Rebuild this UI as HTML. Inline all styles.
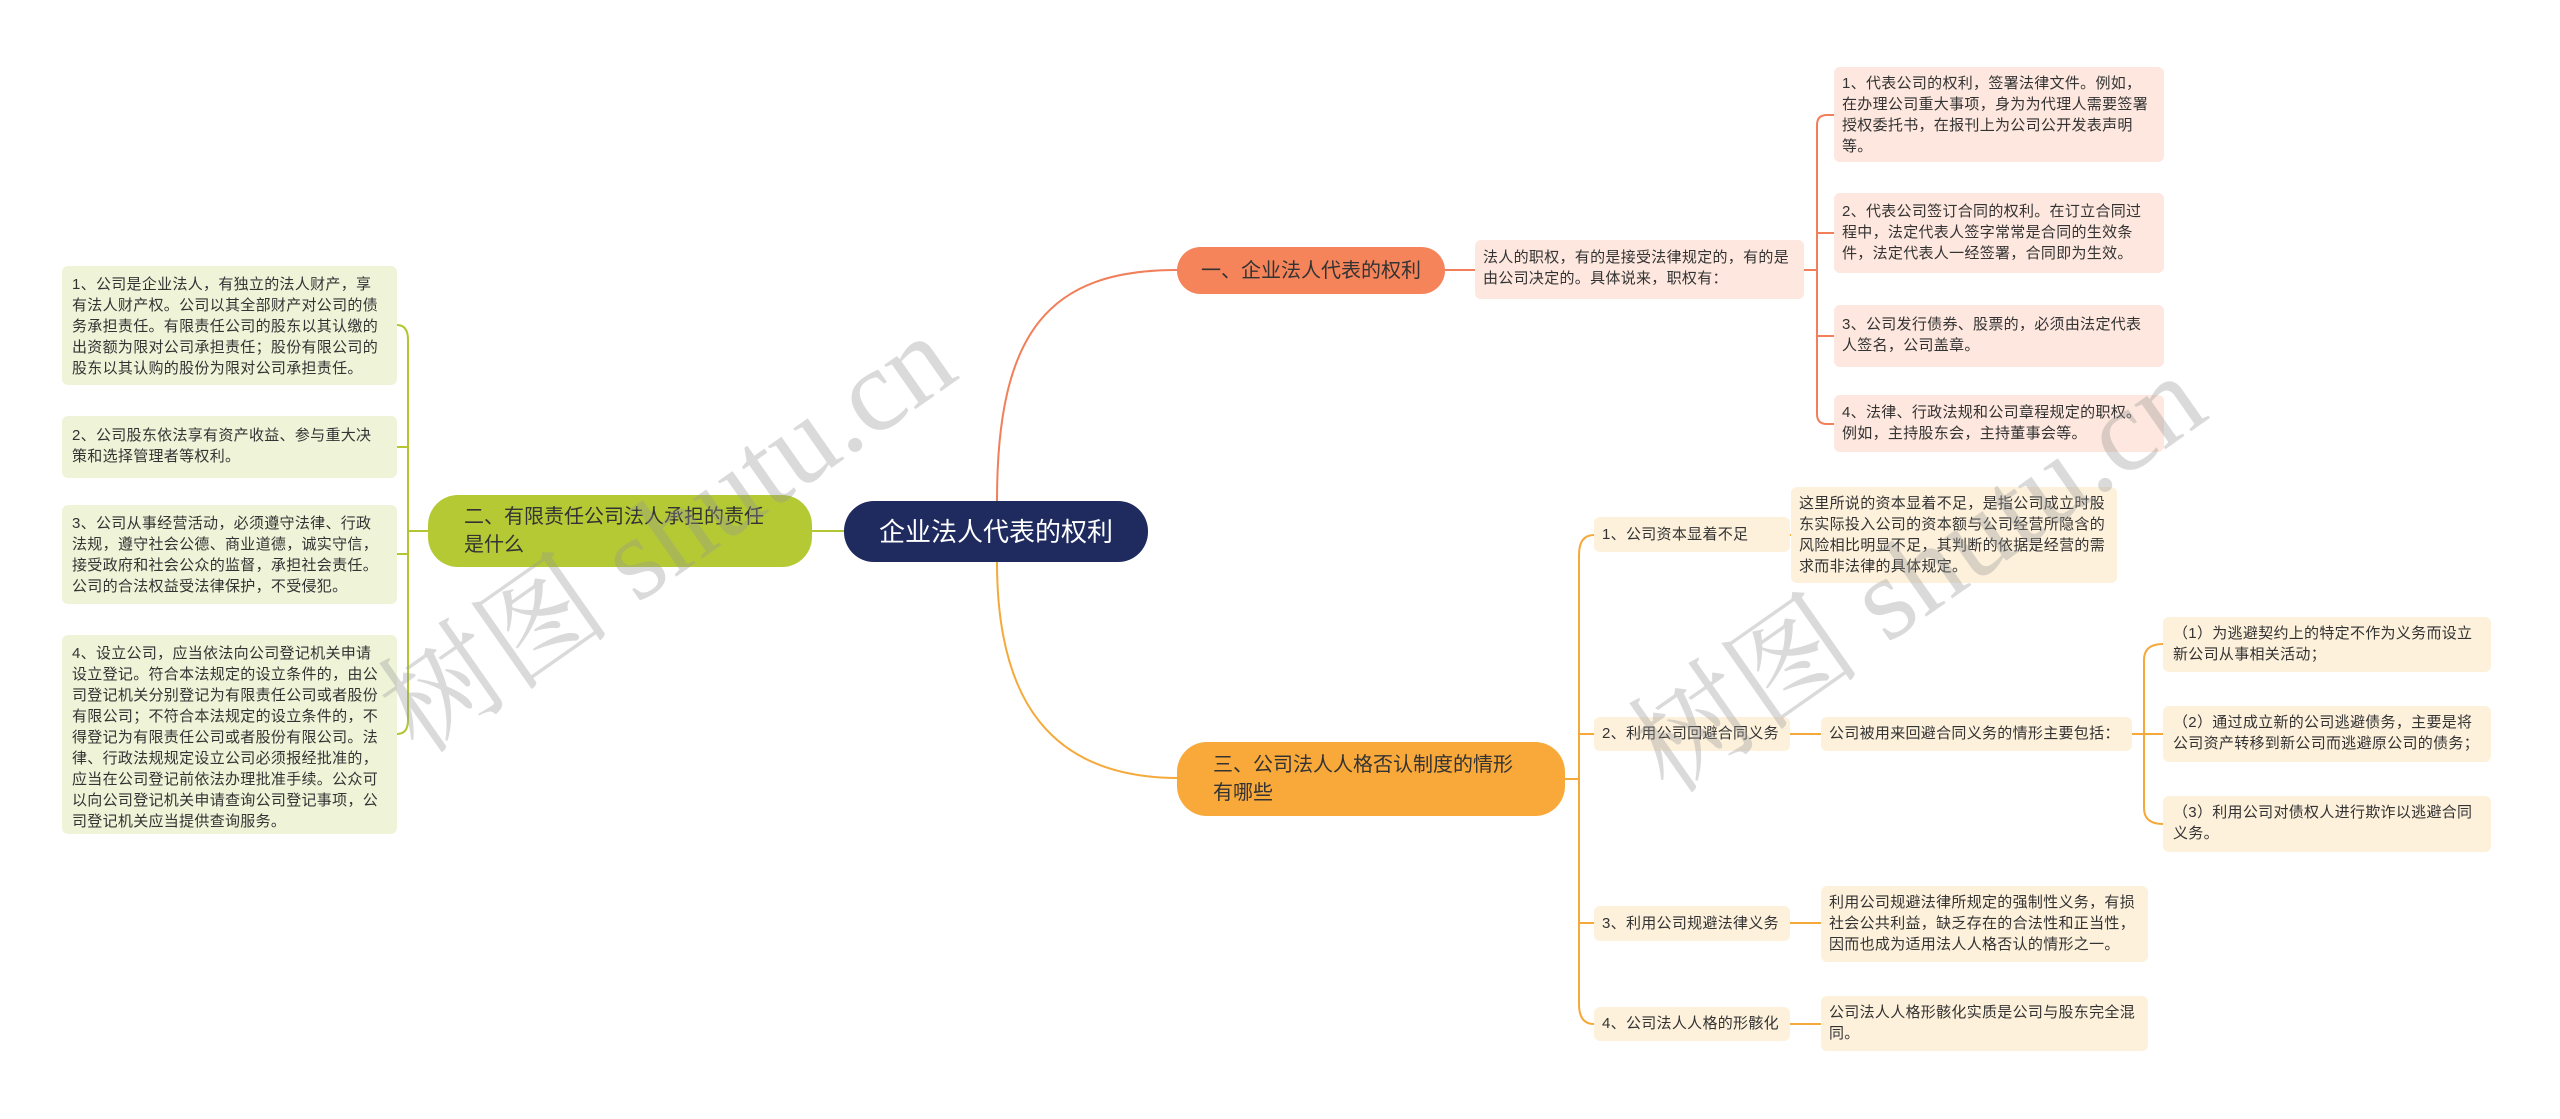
<!DOCTYPE html>
<html><head><meta charset="utf-8"><style>
body{margin:0;width:2560px;height:1119px;background:#fff;position:relative;overflow:hidden;font-family:"Liberation Sans","Noto Sans CJK SC",sans-serif;}
.n{position:absolute;box-sizing:border-box;font-size:15px;line-height:21px;color:#333;padding:10px 10px;border-radius:6px;letter-spacing:0.3px;}
.p{background:#fde7de;}
.g{background:#eff4d9;}
.y{background:#fdf1dc;}
.b{position:absolute;box-sizing:border-box;display:flex;align-items:center;font-size:20px;line-height:28px;color:#333;border-radius:24px;padding:0 22px;}
.wm{position:absolute;font-size:118px;color:rgba(150,150,150,0.35);transform:rotate(-35deg);white-space:nowrap;font-family:"Liberation Serif","Noto Serif CJK SC",serif;}
</style></head><body>
<svg width="2560" height="1119" style="position:absolute;left:0;top:0">
<g fill="none" stroke-width="2">
<path d="M997 501 C997 330 1050 270 1177 270" stroke="#f07f5a"/>
<path d="M997 562 C997 700 1050 778 1179 778" stroke="#f5a93a"/>
<path d="M844 531 L812 531" stroke="#b3c631"/>
<path d="M1445 270 L1475 270" stroke="#f07f5a"/>
<path d="M1804 270 L1817 270" stroke="#f07f5a"/>
<path d="M1834 115 L1827 115 Q1817 115 1817 125 L1817 414 Q1817 424 1827 424 L1834 424 M1817 233 L1834 233 M1817 336 L1834 336" stroke="#f07f5a"/>
<path d="M428 531 L408 531" stroke="#b3c631"/>
<path d="M397 325 Q408 325 408 340 L408 720 Q408 734 397 734 M397 447 L408 447 M397 554 L408 554" stroke="#b3c631"/>
<path d="M1565 779 L1579 779" stroke="#f5a93a"/>
<path d="M1594 535 Q1579 535 1579 555 L1579 1004 Q1579 1024 1594 1024 M1579 734 L1594 734 M1579 923 L1594 923" stroke="#f5a93a"/>
<path d="M1790 535 L1791 535 M1790 734 L1821 734 M1790 923 L1821 923 M1790 1024 L1821 1024" stroke="#f5a93a"/>
<path d="M2132 734 L2144 734 M2163 644 Q2144 644 2144 660 L2144 808 Q2144 824 2163 824 M2144 734 L2163 734" stroke="#f5a93a"/>
</g></svg>

<div class="b" style="left:844px;top:501px;width:304px;height:61px;background:#1f2a5e;color:#fff;font-size:26px;justify-content:center;border-radius:30px;">企业法人代表的权利</div>

<div class="b" style="left:1177px;top:247px;width:268px;height:47px;background:#f5845a;justify-content:center;">一、企业法人代表的权利</div>
<div class="n p" style="left:1475px;top:240px;width:329px;height:59px;padding:7px 8px;">法人的职权，有的是接受法律规定的，有的是由公司决定的。具体说来，职权有：</div>
<div class="n p" style="left:1834px;top:67px;width:330px;height:95px;padding:6px 11px 6px 8px;">1、代表公司的权利，签署法律文件。例如，在办理公司重大事项，身为为代理人需要签署授权委托书，在报刊上为公司公开发表声明等。</div>
<div class="n p" style="left:1834px;top:193px;width:330px;height:80px;padding:8px 11px 8px 8px;">2、代表公司签订合同的权利。在订立合同过程中，法定代表人签字常常是合同的生效条件，法定代表人一经签署，合同即为生效。</div>
<div class="n p" style="left:1834px;top:305px;width:330px;height:62px;padding:9px 11px 9px 8px;">3、公司发行债券、股票的，必须由法定代表人签名，公司盖章。</div>
<div class="n p" style="left:1834px;top:395px;width:330px;height:57px;padding:7px 11px 7px 8px;">4、法律、行政法规和公司章程规定的职权。例如，主持股东会，主持董事会等。</div>

<div class="b" style="left:428px;top:495px;width:384px;height:72px;background:#b5c934;border-radius:30px;padding:0 36px;">二、有限责任公司法人承担的责任是什么</div>
<div class="n g" style="left:62px;top:266px;width:335px;height:119px;padding:8px 12px 8px 10px;">1、公司是企业法人，有独立的法人财产，享有法人财产权。公司以其全部财产对公司的债务承担责任。有限责任公司的股东以其认缴的出资额为限对公司承担责任；股份有限公司的股东以其认购的股份为限对公司承担责任。</div>
<div class="n g" style="left:62px;top:416px;width:335px;height:62px;padding:9px 12px 9px 10px;">2、公司股东依法享有资产收益、参与重大决策和选择管理者等权利。</div>
<div class="n g" style="left:62px;top:505px;width:335px;height:99px;padding:8px 12px 8px 10px;">3、公司从事经营活动，必须遵守法律、行政法规，遵守社会公德、商业道德，诚实守信，接受政府和社会公众的监督，承担社会责任。公司的合法权益受法律保护，不受侵犯。</div>
<div class="n g" style="left:62px;top:635px;width:335px;height:199px;padding:8px 12px 8px 10px;">4、设立公司，应当依法向公司登记机关申请设立登记。符合本法规定的设立条件的，由公司登记机关分别登记为有限责任公司或者股份有限公司；不符合本法规定的设立条件的，不得登记为有限责任公司或者股份有限公司。法律、行政法规规定设立公司必须报经批准的，应当在公司登记前依法办理批准手续。公众可以向公司登记机关申请查询公司登记事项，公司登记机关应当提供查询服务。</div>

<div class="b" style="left:1177px;top:742px;width:388px;height:74px;background:#f9a93a;border-radius:30px;padding:0 36px;">三、公司法人人格否认制度的情形有哪些</div>
<div class="n y" style="left:1594px;top:517px;width:196px;height:35px;padding:7px 8px;">1、公司资本显着不足</div>
<div class="n y" style="left:1594px;top:717px;width:196px;height:34px;padding:6px 8px;">2、利用公司回避合同义务</div>
<div class="n y" style="left:1594px;top:906px;width:196px;height:35px;padding:7px 8px;">3、利用公司规避法律义务</div>
<div class="n y" style="left:1594px;top:1007px;width:196px;height:34px;padding:6px 8px;">4、公司法人人格的形骸化</div>
<div class="n y" style="left:1791px;top:487px;width:326px;height:96px;padding:6px 8px;">这里所说的资本显着不足，是指公司成立时股东实际投入公司的资本额与公司经营所隐含的风险相比明显不足，其判断的依据是经营的需求而非法律的具体规定。</div>
<div class="n y" style="left:1821px;top:717px;width:311px;height:34px;padding:6px 8px;">公司被用来回避合同义务的情形主要包括：</div>
<div class="n y" style="left:2163px;top:617px;width:328px;height:55px;padding:6px 10px;">（1）为逃避契约上的特定不作为义务而设立新公司从事相关活动；</div>
<div class="n y" style="left:2163px;top:706px;width:328px;height:56px;padding:6px 10px;">（2）通过成立新的公司逃避债务，主要是将公司资产转移到新公司而逃避原公司的债务；</div>
<div class="n y" style="left:2163px;top:796px;width:328px;height:56px;padding:6px 10px;">（3）利用公司对债权人进行欺诈以逃避合同义务。</div>
<div class="n y" style="left:1821px;top:886px;width:327px;height:76px;padding:6px 8px;">利用公司规避法律所规定的强制性义务，有损社会公共利益，缺乏存在的合法性和正当性，因而也成为适用法人人格否认的情形之一。</div>
<div class="n y" style="left:1821px;top:996px;width:327px;height:55px;padding:6px 8px;">公司法人人格形骸化实质是公司与股东完全混同。</div>

<div class="wm" style="left:330px;top:440px;">树图 shutu.cn</div>
<div class="wm" style="left:1580px;top:480px;">树图 shutu.cn</div>
</body></html>
